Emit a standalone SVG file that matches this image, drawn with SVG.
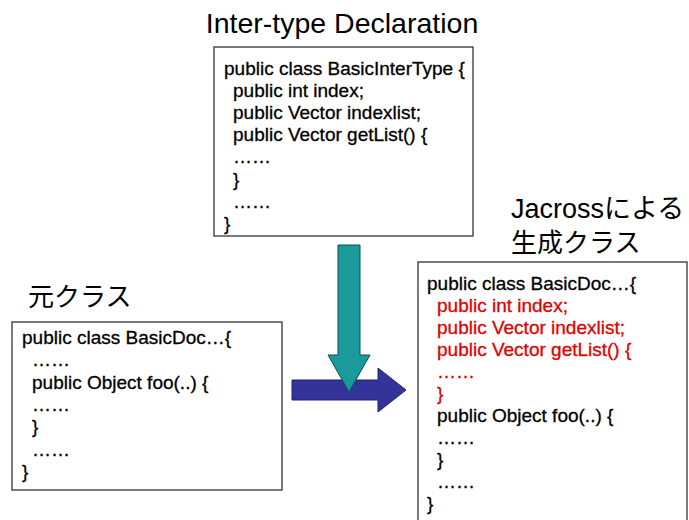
<svg xmlns="http://www.w3.org/2000/svg" width="689" height="520" viewBox="0 0 689 520">
<style>
.title{font-family:"Liberation Sans","Noto Sans CJK JP",sans-serif;font-size:26px;fill:#000}
.box{fill:#fff;stroke:#333;stroke-width:1.3}
.code{font-family:"Liberation Sans",Arial,sans-serif;font-size:19px;fill:#000;stroke:#000;stroke-width:0.3}
.red{fill:#e00000;stroke:#e00000}
</style>
<rect width="689" height="520" fill="#fff"/>
<g id="interTypeTitle"><text class="title" x="342" y="33" text-anchor="middle" style="font-size:28.5px">Inter-type Declaration</text></g>
<g id="interTypeBox">
<rect class="box" x="214" y="47" width="259" height="189"/>
<text class="code"><tspan x="224" y="75">public class BasicInterType {</tspan><tspan x="233" y="97">public int index;</tspan><tspan x="233" y="119">public Vector indexlist;</tspan><tspan x="233" y="141">public Vector getList() {</tspan><tspan x="233" y="163">……</tspan><tspan x="233" y="186">}</tspan><tspan x="233" y="208">……</tspan><tspan x="224" y="230">}</tspan></text>
</g>
<g id="origTitle"><text class="title" x="28" y="306">元クラス</text></g>
<g id="origBox">
<rect class="box" x="12" y="322" width="270" height="168"/>
<text class="code"><tspan x="22" y="344">public class BasicDoc…{</tspan><tspan x="32" y="366">……</tspan><tspan x="32" y="389">public Object foo(..) {</tspan><tspan x="32" y="411">……</tspan><tspan x="32" y="433">}</tspan><tspan x="32" y="456">……</tspan><tspan x="22" y="478">}</tspan></text>
</g>
<g id="genTitle"><text class="title" x="511" y="218" style="font-size:27px">Jacrossによる</text><text class="title" x="511" y="252">生成クラス</text></g>
<g id="genBox">
<rect class="box" x="418" y="262" width="269" height="262"/>
<text class="code"><tspan x="427" y="290">public class BasicDoc…{</tspan><tspan class="red" x="437" y="312">public int index;</tspan><tspan class="red" x="437" y="334">public Vector indexlist;</tspan><tspan class="red" x="437" y="356">public Vector getList() {</tspan><tspan class="red" x="437" y="378">……</tspan><tspan class="red" x="437" y="400">}</tspan><tspan x="437" y="422">public Object foo(..) {</tspan><tspan x="437" y="444">……</tspan><tspan x="437" y="466">}</tspan><tspan x="437" y="488">……</tspan><tspan x="427" y="510">}</tspan></text>
</g>
<g id="connectors">
<polygon points="292,380 378,380 378,368 406,390 378,412 378,400 292,400" fill="#333399" stroke="#22226a" stroke-width="1"/>
<polygon points="338,245 360,245 360,355 370,355 349,392 328,355 338,355" fill="#1a9a9a" stroke="#0e4f4f" stroke-width="1"/>
</g>
</svg>
